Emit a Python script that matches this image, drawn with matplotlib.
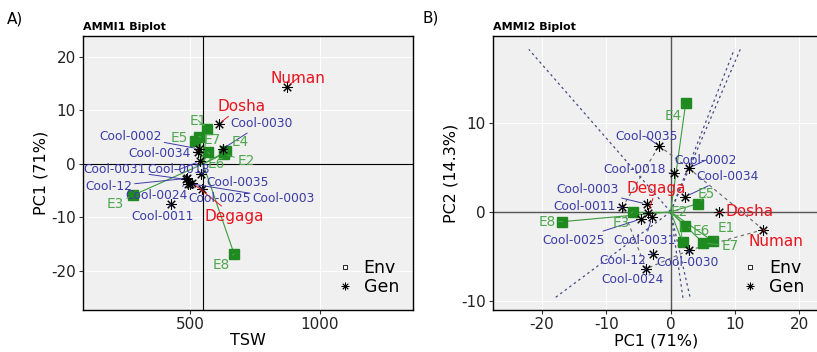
import numpy as np
import matplotlib
matplotlib.use("Agg")
from matplotlib import pyplot as plt
from matplotlib.lines import Line2D

# genotypes
gen_names = ["Numan", "Dosha", "Degaga", "Cool-0002", "Cool-0003", "Cool-0011",
             "Cool-0018", "Cool-0024", "Cool-0025", "Cool-0030", "Cool-0031",
             "Cool-0034", "Cool-0035", "Cool-12"]
gen_tsw = [872, 612, 508, 535, 502, 426, 540, 492, 545, 627, 485, 530, 543, 490]
gen_pc1 = [14.4, 7.5, -3.5, 2.8, -3.7, -7.5, 0.5, -3.8, -4.6, 2.85, -2.9, 2.3, -1.8, -2.7]
gen_pc2 = [-2.0, -0.07, -0.1, 4.9, 0.86, 0.5, 4.3, -6.4, -0.8, -4.3, -0.6, 1.7, 7.4, -4.7]
check_names = ["Numan", "Dosha", "Degaga"]

# environments
env_names = ["E1", "E2", "E3", "E4", "E5", "E6", "E7", "E8"]
env_tsw = [565, 630, 280, 640, 518, 569, 535, 670]
env_pc1 = [6.6, 1.85, -5.9, 2.35, 4.3, 2.2, 5.1, -16.8]
env_pc2 = [-3.3, -3.4, 0.0, 12.2, 0.93, -1.57, -3.5, -1.1]

# which-won-where polygon (vertex genotypes, in order)
hull_order = ["Cool-0035", "Cool-0002", "Numan", "Cool-0030", "Cool-0024", "Cool-0011"]

# where the labels sit (layout only)
label_a = {
    "Numan": (915, 16.0), "Dosha": (699, 10.8), "Cool-0030": (776, 7.5),
    "Cool-0002": (271, 5.2), "Cool-0034": (383, 2.0), "Cool-0031": (212, -1.1),
    "Cool-0018": (455, -1.1), "Cool-12": (187, -4.2), "Cool-0024": (372, -5.9),
    "Cool-0011": (395, -9.8), "Degaga": (672, -9.8), "Cool-0035": (684, -3.5),
    "Cool-0025": (613, -6.5), "Cool-0003": (862, -6.5),
    "E1": (532, 8.1), "E5": (458, 4.9), "E7": (587, 4.4), "E4": (695, 4.0),
    "E2": (715, 0.6), "E6": (603, 0.0), "E3": (213, -7.4), "E8": (622, -18.9),
}
label_b = {
    "Cool-0035": (-3.8, 8.4), "Cool-0002": (5.5, 5.8), "Cool-0018": (-5.55, 4.7),
    "Cool-0034": (8.9, 3.95), "Cool-0003": (-12.9, 2.46), "Degaga": (-2.2, 2.65),
    "Cool-0011": (-13.3, 0.6), "Dosha": (12.2, 0.03), "Numan": (16.4, -3.3),
    "Cool-0025": (-15.0, -3.2), "Cool-0031": (-4.0, -3.2), "Cool-12": (-7.4, -5.5),
    "Cool-0030": (2.7, -5.7), "Cool-0024": (-5.9, -7.6),
    "E4": (0.36, 10.75), "E5": (5.6, 2.0), "E8": (-19.2, -1.1), "E3": (-7.7, -1.27),
    "E2": (1.3, 0.0), "E6": (4.7, -2.2), "E1": (8.7, -1.8), "E7": (9.2, -3.8),
}

GEN_BLUE = "#3b3ba8"
CHECK_RED = "#e8141e"
ENV_TEXT = "#4fa84f"
ENV_MARK = "#1f8a1f"
VEC_GREEN = "#3d9b3d"
STAR = (8, 2, 0)

plt.rcParams["font.family"] = ["DejaVu Sans"]
plt.rcParams["axes.unicode_minus"] = False


def style_axes(ax):
    ax.set_facecolor("#f0f0f0")
    ax.grid(True, color="white", lw=0.7)
    ax.set_axisbelow(True)
    for s in ax.spines.values():
        s.set_color("black")
        s.set_linewidth(1.0)
    ax.tick_params(length=3, width=0.8, color="#333333", labelsize=11,
                   labelcolor="#222222", pad=2)


def draw_biplot(ax, gx, gy, ex, ey, center, labels):
    for x, y in zip(ex, ey):
        ax.plot([center[0], x], [center[1], y], color=VEC_GREEN, lw=0.8, zorder=2)
    ax.plot(ex, ey, ls="none", marker="s", ms=6.5, color=ENV_MARK, zorder=3)
    ax.plot(gx, gy, ls="none", marker=STAR, ms=7.5, mec="black", mew=0.75, zorder=3)

    for name, x, y in zip(gen_names, gx, gy):
        if name in check_names:
            color, size = CHECK_RED, 11
        else:
            color, size = GEN_BLUE, 8.8
        ax.annotate(name, xy=(x, y), xytext=labels[name], ha="center", va="center",
                    fontsize=size, color=color, zorder=4,
                    arrowprops=dict(arrowstyle="-", color=color, lw=0.7,
                                    shrinkA=0, shrinkB=3))
    for name, x, y in zip(env_names, ex, ey):
        ax.annotate(name, xy=(x, y), xytext=labels[name], ha="center", va="center",
                    fontsize=9.8, color=ENV_TEXT, zorder=4,
                    arrowprops=dict(arrowstyle="-", color=ENV_TEXT, lw=0.7,
                                    shrinkA=0, shrinkB=3))

    handles = [Line2D([], [], ls="none", marker="s", ms=3.5, mfc="white",
                      mec="black", mew=0.6),
               Line2D([], [], ls="none", marker=STAR, ms=5.5, mec="black", mew=0.6)]
    ax.legend(handles, ["Env", "Gen"], loc="lower right", frameon=False,
              fontsize=12.5, handlelength=1.0, handletextpad=0.6,
              labelspacing=0.05, borderaxespad=0.4)


fig = plt.figure(figsize=(8.17, 3.52), dpi=100)

# A) AMMI1
axA = fig.add_axes([83 / 817, 42 / 352, 330 / 817, 274 / 352])
style_axes(axA)
grand_mean = np.mean(gen_tsw)
axA.axvline(grand_mean, color="black", lw=0.8, zorder=1.5)
axA.axhline(0, color="black", lw=0.8, zorder=1.5)
draw_biplot(axA, gen_tsw, gen_pc1, env_tsw, env_pc1, (grand_mean, 0), label_a)
axA.set_xlim(89, 1358)
axA.set_ylim(-27.3, 23.9)
axA.set_xticks([500, 1000])
axA.set_yticks([-20, -10, 0, 10, 20])
axA.set_xlabel("TSW", fontsize=11.5, labelpad=1)
axA.set_ylabel("PC1 (71%)", fontsize=11.5, labelpad=2)

# B) AMMI2
axB = fig.add_axes([493 / 817, 42 / 352, 325.6 / 817, 274 / 352])
style_axes(axB)
axB.axvline(0, color="#555555", lw=1.0, zorder=1.5)
axB.axhline(0, color="#555555", lw=1.0, zorder=1.5)

pts = {n: np.array([x, y]) for n, x, y in zip(gen_names, gen_pc1, gen_pc2)}
hull = [pts[n] for n in hull_order]
box_x, box_y = (-23.5, 22.0), (-9.7, 18.2)
for i in range(len(hull)):
    p, q = hull[i], hull[(i + 1) % len(hull)]
    axB.plot([p[0], q[0]], [p[1], q[1]], color="#666666", lw=0.8,
             ls=(0, (3, 3)), zorder=1.6)
    # ray from the origin, perpendicular to this side
    d = q - p
    n = np.array([d[1], -d[0]])
    if n @ p < 0:
        n = -n
    ts = []
    for k, (lo, hi) in enumerate([box_x, box_y]):
        if n[k] > 0:
            ts.append(hi / n[k])
        elif n[k] < 0:
            ts.append(lo / n[k])
    t = min(ts)
    axB.plot([0, n[0] * t], [0, n[1] * t], color="#4a4a88", lw=0.9,
             ls=(0, (2, 2.5)), zorder=1.6)

draw_biplot(axB, gen_pc1, gen_pc2, env_pc1, env_pc2, (0, 0), label_b)
axB.set_xlim(-27.6, 23)
axB.set_ylim(-11.0, 19.7)
axB.set_xticks([-20, -10, 0, 10, 20])
axB.set_yticks([-10, 0, 10])
axB.set_xlabel("PC1 (71%)", fontsize=11.5, labelpad=1)
axB.set_ylabel("PC2 (14.3%)", fontsize=11.5, labelpad=2)

fig.text(7 / 817, 1 - 19 / 352, "A)", fontsize=11, va="center")
fig.text(83 / 817, 1 - 27 / 352, "AMMI1 Biplot", fontsize=8, fontweight="bold",
         va="center")
fig.text(423 / 817, 1 - 18 / 352, "B)", fontsize=11, va="center")
fig.text(493 / 817, 1 - 27 / 352, "AMMI2 Biplot", fontsize=8, fontweight="bold",
         va="center")

fig.savefig("out.png", dpi=100)
